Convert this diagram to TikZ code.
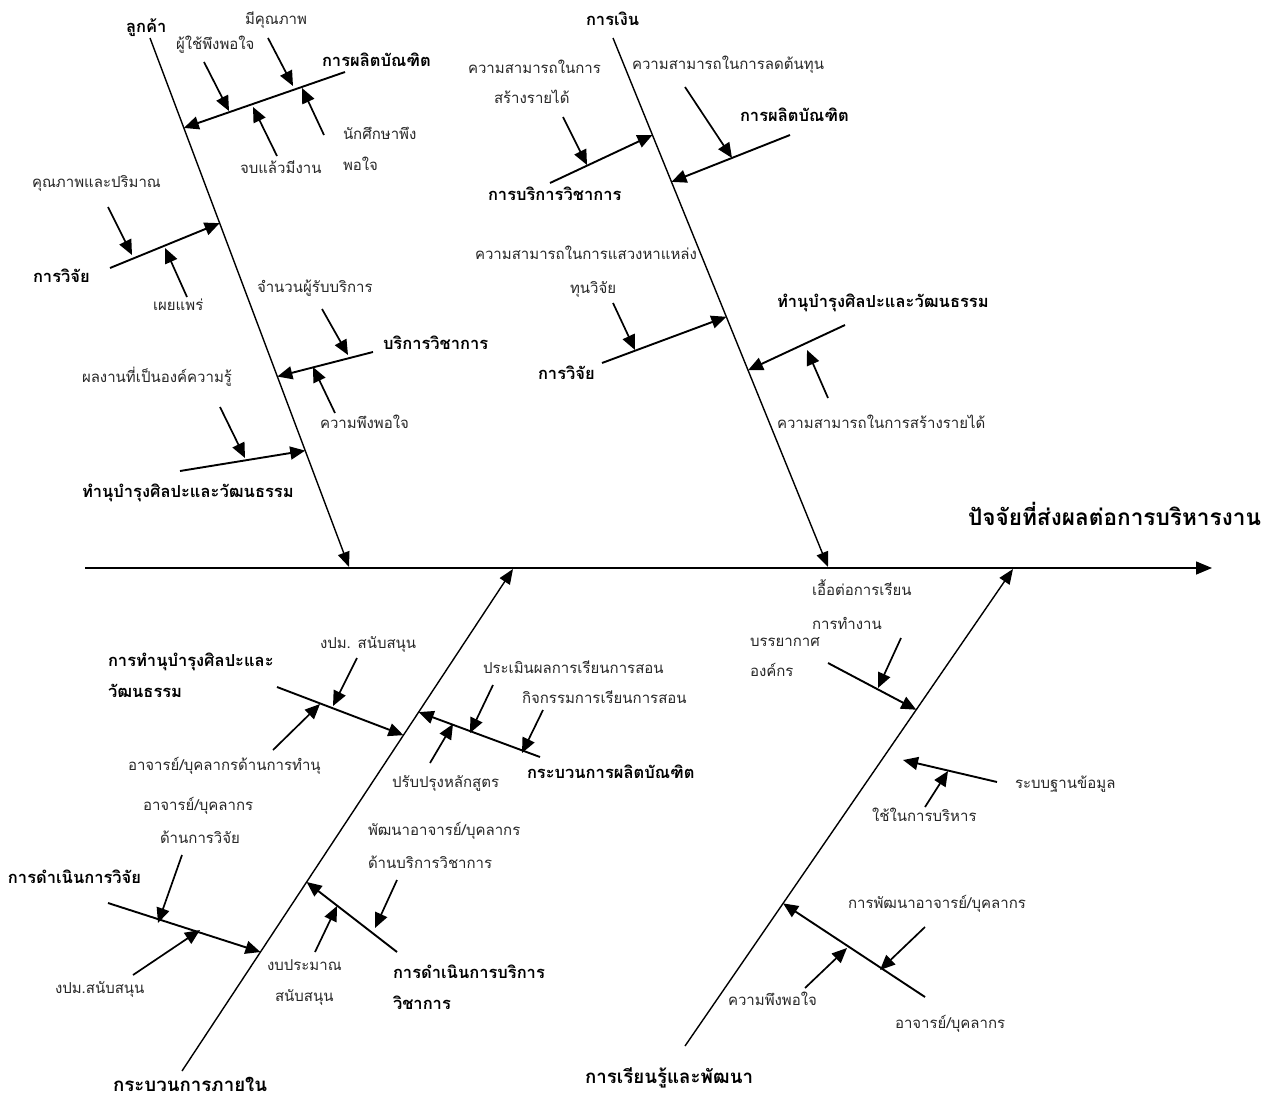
\documentclass[tikz,border=0pt]{standalone}
\usepackage{fontspec}
\newfontfamily\thai[Script=Thai]{Loma}
\usetikzlibrary{arrows.meta,calc}

\tikzset{
  every node/.style={inner sep=0pt, outer sep=0pt},
  lbl/.style={anchor=west, font=\thai\fontsize{15}{17}\selectfont, text=black!85,
              text height=8pt, text depth=2pt},
  cat/.style={anchor=west, font=\thai\bfseries\fontsize{16.5}{19}\selectfont,
              text height=9pt, text depth=2pt},
  bigcat/.style={cat, font=\thai\bfseries\fontsize{18.7}{21}\selectfont},
  headlbl/.style={cat, font=\thai\bfseries\fontsize{22.6}{25}\selectfont},
  spine/.style={line width=1.5pt, -{Triangle[length=16pt,width=13pt]}},
  bone/.style={line width=1.4pt, -{Triangle[length=15pt,width=12pt]}},
  rib/.style={line width=1.9pt, -{Triangle[length=15pt,width=13pt]}},
  cause/.style={line width=1.7pt, -{Triangle[length=15pt,width=13pt]}},
}

\begin{document}
\begin{tikzpicture}[x=1pt, y=-1pt]
\useasboundingbox (0,0) rectangle (1271,1102);

% ---------- spine ----------
\coordinate (spS) at (85,568);
\coordinate (spE) at (1212,568);
\draw[spine] (spS) -- (spE);
\node[headlbl] (head) at (968,522) {ปัจจัยที่ส่งผลต่อการบริหารงาน};

% ---------- main bones ----------
\coordinate (aS) at (150,38);  \coordinate (aE) at (349,567);
\coordinate (bS) at (613,38);  \coordinate (bE) at (828,567);
\coordinate (cS) at (182,1071); \coordinate (cE) at (513,569);
\coordinate (dS) at (685,1046); \coordinate (dE) at (1013,569);
\draw[bone] (aS) -- (aE);
\draw[bone] (bS) -- (bE);
\draw[bone] (cS) -- (cE);
\draw[bone] (dS) -- (dE);

\node[cat] (nA) at (126,29) {ลูกค้า};
\node[cat] (nB) at (586,22) {การเงิน};
\node[bigcat] (nC) at (113,1088) {กระบวนการภายใน};
\node[bigcat] (nD) at (585,1080) {การเรียนรู้และพัฒนา};

% ---------- customer bone ----------
\coordinate (a1s) at (345,72);  \coordinate (a1t) at ($(aS)!0.17!(aE)$);
\draw[rib] (a1s) -- (a1t);
\node[cat] (a1n) at (322,63) {การผลิตบัณฑิต};
\coordinate (a1m1s) at (268,38);  \coordinate (a1m1t) at (293,86);
\coordinate (a1m2s) at (204,62);  \coordinate (a1m2t) at (229,111);
\coordinate (a1m3s) at (277,156); \coordinate (a1m3t) at (253,107);
\coordinate (a1m4s) at (324,135); \coordinate (a1m4t) at (302,88);
\draw[cause] (a1m1s) -- (a1m1t);
\draw[cause] (a1m2s) -- (a1m2t);
\draw[cause] (a1m3s) -- (a1m3t);
\draw[cause] (a1m4s) -- (a1m4t);
\node[lbl] (a1l1) at (245,22) {มีคุณภาพ};
\node[lbl] (a1l2) at (176,47) {ผู้ใช้พึงพอใจ};
\node[lbl] (a1l3) at (240,171) {จบแล้วมีงาน};
\node[lbl] (a1l4) at (343,137) {นักศึกษาพึง};
\node[lbl] (a1l4b) at (343,168) {พอใจ};

\coordinate (a2s) at (110,268); \coordinate (a2t) at ($(aS)!0.35!(aE)$);
\draw[rib] (a2s) -- (a2t);
\node[cat] (a2n) at (33,279) {การวิจัย};
\coordinate (a2m1s) at (108,207); \coordinate (a2m1t) at (132,255);
\coordinate (a2m2s) at (187,297); \coordinate (a2m2t) at (165,248);
\draw[cause] (a2m1s) -- (a2m1t);
\draw[cause] (a2m2s) -- (a2m2t);
\node[lbl] (a2l1) at (32,185) {คุณภาพและปริมาณ};
\node[lbl] (a2l2) at (153,307) {เผยแพร่};

\coordinate (a3s) at (373,352); \coordinate (a3t) at ($(aS)!0.64!(aE)$);
\draw[rib] (a3s) -- (a3t);
\node[cat] (a3n) at (383,346) {บริการวิชาการ};
\coordinate (a3m1s) at (322,309); \coordinate (a3m1t) at (348,355);
\coordinate (a3m2s) at (335,413); \coordinate (a3m2t) at (313,367);
\draw[cause] (a3m1s) -- (a3m1t);
\draw[cause] (a3m2s) -- (a3m2t);
\node[lbl] (a3l1) at (257,289) {จำนวนผู้รับบริการ};
\node[lbl] (a3l2) at (320,425) {ความพึงพอใจ};

\coordinate (a4s) at (180,471); \coordinate (a4t) at ($(aS)!0.78!(aE)$);
\draw[rib] (a4s) -- (a4t);
\node[cat] (a4n) at (82,494) {ทำนุบำรุงศิลปะและวัฒนธรรม};
\coordinate (a4m1s) at (220,407); \coordinate (a4m1t) at (245,458);
\draw[cause] (a4m1s) -- (a4m1t);
\node[lbl] (a4l1) at (82,379) {ผลงานที่เป็นองค์ความรู้};

% ---------- finance bone ----------
\coordinate (b1s) at (550,183); \coordinate (b1t) at ($(bS)!0.1834!(bE)$);
\draw[rib] (b1s) -- (b1t);
\node[cat] (b1n) at (488,197) {การบริการวิชาการ};
\coordinate (b1m1s) at (563,117); \coordinate (b1m1t) at (587,165);
\draw[cause] (b1m1s) -- (b1m1t);
\node[lbl] (b1l1) at (468,71) {ความสามารถในการ};
\node[lbl] (b1l1b) at (494,101) {สร้างรายได้};

\coordinate (b2s) at (790,135); \coordinate (b2t) at ($(bS)!0.272!(bE)$);
\draw[rib] (b2s) -- (b2t);
\node[cat] (b2n) at (740,118) {การผลิตบัณฑิต};
\coordinate (b2m1s) at (685,87); \coordinate (b2m1t) at (732,158);
\draw[cause] (b2m1s) -- (b2m1t);
\node[lbl] (b2l1) at (632,67) {ความสามารถในการลดต้นทุน};

\coordinate (b3s) at (602,363); \coordinate (b3t) at ($(bS)!0.527!(bE)$);
\draw[rib] (b3s) -- (b3t);
\node[cat] (b3n) at (538,376) {การวิจัย};
\coordinate (b3m1s) at (613,303); \coordinate (b3m1t) at (635,350);
\draw[cause] (b3m1s) -- (b3m1t);
\node[lbl] (b3l1) at (475,256) {ความสามารถในการแสวงหาแหล่ง};
\node[lbl] (b3l1b) at (570,290) {ทุนวิจัย};

\coordinate (b4s) at (845,325); \coordinate (b4t) at ($(bS)!0.628!(bE)$);
\draw[rib] (b4s) -- (b4t);
\node[cat] (b4n) at (777,304) {ทำนุบำรุงศิลปะและวัฒนธรรม};
\coordinate (b4m1s) at (828,398); \coordinate (b4m1t) at (807,350);
\draw[cause] (b4m1s) -- (b4m1t);
\node[lbl] (b4l1) at (777,425) {ความสามารถในการสร้างรายได้};

% ---------- internal process bone ----------
\coordinate (c1s) at (277,687); \coordinate (c1t) at ($(cS)!0.669!(cE)$);
\draw[rib] (c1s) -- (c1t);
\node[cat] (c1n) at (108,663) {การทำนุบำรุงศิลปะและ};
\node[cat] (c1nb) at (108,694) {วัฒนธรรม};
\coordinate (c1m1s) at (357,658); \coordinate (c1m1t) at (333,706);
\coordinate (c1m2s) at (273,750); \coordinate (c1m2t) at (320,704);
\draw[cause] (c1m1s) -- (c1m1t);
\draw[cause] (c1m2s) -- (c1m2t);
\node[lbl] (c1l1) at (320,645) {งปม. สนับสนุน};
\node[lbl] (c1l2) at (128,767) {อาจารย์/บุคลากรด้านการทำนุ};

\coordinate (c2s) at (540,757); \coordinate (c2t) at ($(cS)!0.715!(cE)$);
\draw[rib] (c2s) -- (c2t);
\node[cat] (c2n) at (527,775) {กระบวนการผลิตบัณฑิต};
\coordinate (c2m1s) at (493,685); \coordinate (c2m1t) at (470,733);
\coordinate (c2m2s) at (543,710); \coordinate (c2m2t) at (522,753);
\coordinate (c2m3s) at (430,763); \coordinate (c2m3t) at (453,724);
\draw[cause] (c2m1s) -- (c2m1t);
\draw[cause] (c2m2s) -- (c2m2t);
\draw[cause] (c2m3s) -- (c2m3t);
\node[lbl] (c2l1) at (483,670) {ประเมินผลการเรียนการสอน};
\node[lbl] (c2l2) at (522,700) {กิจกรรมการเรียนการสอน};
\node[lbl] (c2l3) at (392,784) {ปรับปรุงหลักสูตร};

\coordinate (c3s) at (108,903); \coordinate (c3t) at ($(cS)!0.237!(cE)$);
\draw[rib] (c3s) -- (c3t);
\node[cat] (c3n) at (8,880) {การดำเนินการวิจัย};
\coordinate (c3m1s) at (182,855); \coordinate (c3m1t) at (158,923);
\coordinate (c3m2s) at (133,975); \coordinate (c3m2t) at (200,930);
\draw[cause] (c3m1s) -- (c3m1t);
\draw[cause] (c3m2s) -- (c3m2t);
\node[lbl] (c3l1) at (143,807) {อาจารย์/บุคลากร};
\node[lbl] (c3l1b) at (160,840) {ด้านการวิจัย};
\node[lbl] (c3l2) at (55,990) {งปม.สนับสนุน};

\coordinate (c4s) at (397,952); \coordinate (c4t) at ($(cS)!0.3765!(cE)$);
\draw[rib] (c4s) -- (c4t);
\node[cat] (c4n) at (393,975) {การดำเนินการบริการ};
\node[cat] (c4nb) at (393,1006) {วิชาการ};
\coordinate (c4m1s) at (315,952); \coordinate (c4m1t) at (337,906);
\coordinate (c4m2s) at (397,880); \coordinate (c4m2t) at (375,928);
\draw[cause] (c4m1s) -- (c4m1t);
\draw[cause] (c4m2s) -- (c4m2t);
\node[lbl] (c4l1) at (267,967) {งบประมาณ};
\node[lbl] (c4l1b) at (275,998) {สนับสนุน};
\node[lbl] (c4l2) at (368,832) {พัฒนาอาจารย์/บุคลากร};
\node[lbl] (c4l2b) at (368,865) {ด้านบริการวิชาการ};

% ---------- learning and growth bone ----------
\coordinate (d1s) at (828,663); \coordinate (d1t) at ($(dS)!0.705!(dE)$);
\draw[rib] (d1s) -- (d1t);
\node[lbl] (d1n) at (750,643) {บรรยากาศ};
\node[lbl] (d1nb) at (750,673) {องค์กร};
\coordinate (d1m1s) at (901,638); \coordinate (d1m1t) at (878,688);
\draw[cause] (d1m1s) -- (d1m1t);
\node[lbl] (d1l1) at (812,592) {เอื้อต่อการเรียน};
\node[lbl] (d1l1b) at (812,626) {การทำงาน};

\coordinate (d2s) at (997,782); \coordinate (d2t) at (903,760);
\draw[rib] (d2s) -- (d2t);
\node[lbl] (d2n) at (1015,785) {ระบบฐานข้อมูล};
\coordinate (d2m1s) at (925,807); \coordinate (d2m1t) at (948,771);
\draw[cause] (d2m1s) -- (d2m1t);
\node[lbl] (d2l1) at (872,818) {ใช้ในการบริหาร};

\coordinate (d3s) at (925,997); \coordinate (d3t) at ($(dS)!0.299!(dE)$);
\draw[rib] (d3s) -- (d3t);
\node[lbl] (d3n) at (895,1025) {อาจารย์/บุคลากร};
\coordinate (d3m1s) at (925,927); \coordinate (d3m1t) at (880,970);
\coordinate (d3m2s) at (805,988); \coordinate (d3m2t) at (847,948);
\draw[cause] (d3m1s) -- (d3m1t);
\draw[cause] (d3m2s) -- (d3m2t);
\node[lbl] (d3l1) at (848,905) {การพัฒนาอาจารย์/บุคลากร};
\node[lbl] (d3l2) at (728,1002) {ความพึงพอใจ};
\end{tikzpicture}
\end{document}
